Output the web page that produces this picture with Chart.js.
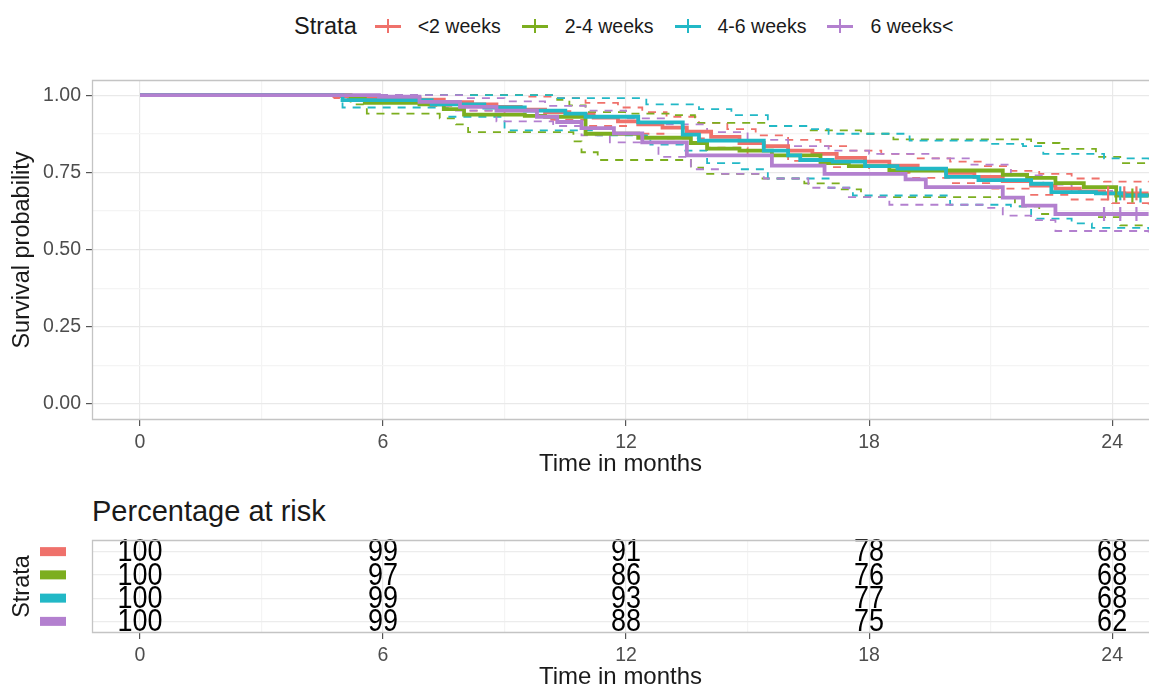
<!DOCTYPE html>
<html lang="en">
<head>
<meta charset="UTF-8">
<title>Survival by strata</title>
<script src="https://cdn.jsdelivr.net/npm/chart.js"></script>
<style>
  body { margin: 0; width: 1149px; height: 689px; background: #fff; position: relative; overflow: hidden;
         font-family: 'Liberation Sans', Arial, sans-serif; color: #1a1a1a; }
  .legend { position: absolute; top: 12px; left: 294px; display: flex; align-items: center; height: 28px; }
  .legend .ttl { font-size: 23.5px; margin-right: 18px; }
  .legend .key { position: relative; width: 26px; height: 20px; margin-right: 17px; }
  .legend .key::before { content: ''; position: absolute; left: 0; right: 0; top: 9px; height: 3px; background: var(--c); }
  .legend .key::after { content: ''; position: absolute; left: 12px; width: 2px; top: 3px; bottom: 3px; background: var(--c); }
  .legend .lab { font-size: 19.5px; margin-right: 21px; }
  #mainBox { position: absolute; left: 0; top: 0; width: 1149px; height: 476px; }
  #riskBox { position: absolute; left: 0; top: 490px; width: 1149px; height: 199px; }
  .risk-title { position: absolute; left: 92px; top: 495px; font-size: 29px; }
</style>
</head>
<body>
<div class="legend">
  <span class="ttl">Strata</span>
  <span class="key" style="--c:#ef716b"></span><span class="lab">&lt;2 weeks</span>
  <span class="key" style="--c:#7cae1f"></span><span class="lab">2-4 weeks</span>
  <span class="key" style="--c:#22b8c6"></span><span class="lab">4-6 weeks</span>
  <span class="key" style="--c:#b380cf"></span><span class="lab">6 weeks&lt;</span>
</div>
<div id="mainBox"><canvas id="survChart"></canvas></div>
<div class="risk-title">Percentage at risk</div>
<div id="riskBox"><canvas id="riskChart"></canvas></div>

<script>
// strata
const strata = ['<2 weeks', '2-4 weeks', '4-6 weeks', '6 weeks<'];
const colors = ['#ef716b', '#7cae1f', '#22b8c6', '#b380cf'];

// Kaplan-Meier estimates, [month, survival]
const redSurv = [[0,1],[4.8,0.997],[5.6,0.993],[6.3,0.99],[6.9,0.985],[7.5,0.977],[8.2,0.97],[8.8,0.962],[9.4,0.953],[10.0,0.945],[10.6,0.937],[11.2,0.927],[11.8,0.915],[12.3,0.905],[12.9,0.895],[13.5,0.882],[14.1,0.865],[14.8,0.845],[15.4,0.835],[16.0,0.82],[16.6,0.81],[17.2,0.797],[17.9,0.785],[18.5,0.772],[19.2,0.76],[19.9,0.748],[20.6,0.735],[21.3,0.722],[22.0,0.707],[22.6,0.697],[23.2,0.688],[23.8,0.682],[24.9,0.682]];
const greenSurv = [[0,1],[5.2,0.99],[5.55,0.975],[6.9,0.97],[7.5,0.955],[8.0,0.937],[9.5,0.933],[10.0,0.93],[11.0,0.875],[12.3,0.862],[13.6,0.845],[14.0,0.827],[14.8,0.82],[15.6,0.805],[16.8,0.78],[17.5,0.77],[18.5,0.756],[21.3,0.742],[21.9,0.732],[22.6,0.715],[23.3,0.702],[24.1,0.675],[24.9,0.672]];
const cyanSurv = [[0,1],[5.0,0.984],[7.2,0.97],[8.5,0.96],[9.5,0.95],[10.5,0.94],[11.0,0.93],[12.3,0.912],[13.4,0.872],[13.8,0.853],[15.4,0.82],[16.0,0.805],[16.3,0.79],[17.1,0.785],[17.9,0.77],[18.7,0.762],[19.9,0.735],[20.7,0.725],[22.0,0.713],[22.5,0.686],[23.6,0.682],[24.3,0.675],[24.9,0.675]];
const purpleSurv = [[0,1],[5.9,0.995],[6.9,0.978],[7.9,0.962],[8.8,0.95],[9.8,0.93],[10.3,0.913],[10.9,0.893],[11.7,0.876],[12.4,0.847],[13.5,0.805],[15.6,0.772],[16.9,0.745],[18.9,0.727],[19.4,0.702],[21.3,0.668],[21.8,0.642],[22.6,0.615],[24.9,0.615]];

// 95% confidence limits, [month, survival]
const redUpper = [[0,1],[9.0,1],[9.5,0.995],[10.2,0.99],[11.0,0.975],[11.8,0.96],[12.4,0.945],[13.0,0.93],[13.8,0.91],[14.5,0.89],[15.2,0.87],[16.0,0.855],[16.8,0.835],[17.5,0.82],[18.3,0.81],[19.2,0.795],[20.0,0.785],[20.8,0.77],[21.5,0.755],[22.2,0.745],[23.0,0.73],[23.8,0.72],[24.9,0.718]];
const redLower = [[0,1],[4.8,0.99],[6.0,0.975],[7.0,0.965],[8.0,0.95],[9.0,0.935],[10.0,0.92],[11.0,0.9],[12.0,0.875],[13.0,0.86],[14.0,0.83],[15.0,0.805],[16.0,0.787],[17.0,0.767],[18.0,0.748],[19.0,0.732],[20.0,0.715],[21.0,0.697],[22.0,0.677],[23.0,0.662],[24.0,0.65],[24.9,0.645]];
const greenUpper = [[0,1],[9.9,1],[10.3,0.985],[10.6,0.967],[11.0,0.945],[12.0,0.94],[13.2,0.935],[13.7,0.91],[14.8,0.91],[15.5,0.9],[16.5,0.886],[17.8,0.875],[18.6,0.857],[21.5,0.857],[22.0,0.845],[22.7,0.826],[23.6,0.8],[24.2,0.78],[24.9,0.78]];
const greenLower = [[0,1],[5.2,0.97],[5.6,0.94],[7.0,0.94],[7.4,0.925],[7.8,0.905],[8.1,0.88],[10.5,0.88],[10.7,0.85],[10.9,0.815],[11.3,0.79],[13.3,0.79],[13.6,0.765],[13.9,0.745],[15.3,0.73],[16.4,0.714],[17.3,0.695],[17.8,0.67],[21.0,0.67],[21.6,0.64],[22.2,0.615],[23.6,0.605],[24.2,0.578],[24.9,0.575]];
const cyanUpper = [[0,1],[10.0,1],[10.2,0.99],[12.3,0.99],[12.5,0.97],[13.5,0.97],[13.8,0.955],[14.6,0.935],[15.5,0.9],[16.5,0.89],[17.0,0.875],[18.2,0.875],[19.0,0.853],[20.5,0.853],[21.0,0.842],[21.8,0.835],[22.3,0.81],[23.3,0.81],[23.8,0.795],[24.9,0.79]];
const cyanLower = [[0,1],[5.0,0.96],[7.3,0.958],[7.6,0.93],[8.5,0.93],[9.0,0.886],[11.0,0.886],[11.3,0.87],[12.3,0.87],[12.6,0.84],[13.4,0.82],[14.0,0.78],[14.8,0.76],[15.5,0.73],[16.6,0.73],[17.0,0.7],[17.6,0.675],[19.5,0.675],[20.0,0.645],[21.5,0.64],[22.0,0.6],[23.0,0.585],[23.5,0.57],[24.9,0.565]];
const purpleUpper = [[0,1],[7.5,1],[8.0,0.99],[9.0,0.98],[10.0,0.965],[11.0,0.95],[12.0,0.925],[13.0,0.905],[14.0,0.88],[15.0,0.855],[16.0,0.835],[17.0,0.82],[18.0,0.81],[19.5,0.795],[20.5,0.775],[21.5,0.74],[22.3,0.71],[23.0,0.69],[24.0,0.68],[24.9,0.675]];
const purpleLower = [[0,1],[6.9,0.97],[7.8,0.95],[8.8,0.915],[10.2,0.9],[10.9,0.87],[11.6,0.847],[12.8,0.8],[13.6,0.76],[14.3,0.745],[15.4,0.73],[16.5,0.7],[17.5,0.67],[18.5,0.645],[20.8,0.635],[21.3,0.61],[22.0,0.595],[22.6,0.56],[24.9,0.555]];

// censoring times (months)
const redCens = [23.9, 24.3, 24.6];
const greenCens = [24.1, 24.5];
const cyanCens = [24.2, 24.7];
const purpleCens = [23.8, 24.2, 24.6];

// percentage at risk table
const riskTimes = [0, 6, 12, 18, 24];
const riskRed = [100, 99, 91, 78, 68];
const riskGreen = [100, 97, 86, 76, 68];
const riskCyan = [100, 99, 93, 77, 68];
const riskPurple = [100, 99, 88, 75, 62];

const xTicks = [0, 3, 6, 9, 12, 15, 18, 21, 24];
const yTicks = [0, 0.125, 0.25, 0.375, 0.5, 0.625, 0.75, 0.875, 1];

const curves = [redSurv, greenSurv, cyanSurv, purpleSurv];
const uppers = [redUpper, greenUpper, cyanUpper, purpleUpper];
const lowers = [redLower, greenLower, cyanLower, purpleLower];
const censors = [redCens, greenCens, cyanCens, purpleCens];
const riskRows = [riskRed, riskGreen, riskCyan, riskPurple];

const toPts = arr => arr.map(p => ({ x: p[0], y: p[1] }));
function stepAt(curve, t) {
    let v = curve[0][1];
    for (const p of curve) { if (p[0] <= t) v = p[1]; }
    return v;
}

const isMajor = v => Math.abs(v % 6) < 1e-9;
const isMajorY = v => Math.abs((v * 4) % 1) < 1e-9;
const noPad = s => { s.paddingLeft = 0; s.paddingRight = 0; s.paddingTop = 0; s.paddingBottom = 0; };

// panel frame; the right side runs off the picture, so no right edge
const panelBox = {
    id: 'panelBox',
    afterDraw(chart) {
        const a = chart.chartArea, ctx = chart.ctx;
        ctx.save();
        ctx.strokeStyle = '#c4c4c4';
        ctx.lineWidth = 1.3;
        ctx.beginPath();
        ctx.moveTo(a.right + 2, a.top + 0.5);
        ctx.lineTo(a.left + 0.5, a.top + 0.5);
        ctx.lineTo(a.left + 0.5, a.bottom - 0.5);
        ctx.lineTo(a.right + 2, a.bottom - 0.5);
        ctx.stroke();
        ctx.restore();
    }
};

const xScaleBase = (min, max) => ({
    type: 'linear', min: min, max: max,
    afterBuildTicks: s => { s.ticks = xTicks.map(v => ({ value: v })); },
    afterFit: s => { s.height = 56; noPad(s); },
    border: { display: false },
    grid: {
        color: c => isMajor(c.tick.value) ? '#e9e9e9' : '#f4f4f4',
        lineWidth: 1.2,
        tickLength: 6,
        tickColor: c => isMajor(c.tick.value) ? '#555' : 'rgba(0,0,0,0)'
    },
    ticks: {
        autoSkip: false, maxRotation: 0, padding: 5, color: '#4d4d4d',
        font: { family: "'Liberation Sans', Arial", size: 19.5 },
        callback: v => isMajor(v) ? String(v) : ''
    },
    title: {
        display: true, text: 'Time in months', color: '#1a1a1a', padding: 0,
        font: { family: "'Liberation Sans', Arial", size: 24, lineHeight: 1 }
    }
});

// main survival chart (lower order is drawn on top: purple solid uppermost)
const datasets = [];
for (let i = 0; i < 4; i++) {
    [uppers[i], lowers[i]].forEach(ci => datasets.push({
        data: toPts(ci), borderColor: colors[i], borderWidth: 1.8, borderDash: [8, 7],
        stepped: true, pointRadius: 0, fill: false, order: 10 - i
    }));
}
for (let i = 0; i < 4; i++) {
    datasets.push({
        data: toPts(curves[i]), borderColor: colors[i], borderWidth: 3.8,
        stepped: true, pointRadius: 0, fill: false, order: 5 - i
    });
    datasets.push({
        type: 'scatter',
        data: censors[i].map(t => ({ x: t, y: stepAt(curves[i], t) })),
        borderColor: colors[i], borderWidth: 2.2, pointStyle: 'line', rotation: 90,
        pointRadius: 7, showLine: false, order: 0
    });
}

new Chart(document.getElementById('survChart'), {
    type: 'line',
    data: { datasets: datasets },
    options: {
        responsive: true, maintainAspectRatio: false, animation: false,
        layout: { autoPadding: false, padding: { top: 80, right: 0, left: 0, bottom: 0 } },
        plugins: { legend: { display: false }, tooltip: { enabled: false } },
        scales: {
            x: xScaleBase(-1.185, 24.91),
            y: {
                type: 'linear', min: -0.052, max: 1.049,
                afterBuildTicks: s => { s.ticks = yTicks.map(v => ({ value: v })); },
                afterFit: s => { s.width = 92; noPad(s); },
                border: { display: false },
                grid: {
                    color: c => isMajorY(c.tick.value) ? '#e9e9e9' : '#f4f4f4',
                    lineWidth: 1.2,
                    tickLength: 6,
                    tickColor: c => isMajorY(c.tick.value) ? '#555' : 'rgba(0,0,0,0)'
                },
                ticks: {
                    autoSkip: false, padding: 5, color: '#4d4d4d',
                    font: { family: "'Liberation Sans', Arial", size: 19.5 },
                    callback: v => isMajorY(v) ? v.toFixed(2) : ''
                },
                title: {
                    display: true, text: 'Survival probability', color: '#1a1a1a',
                    padding: { top: 11, bottom: 0 },
                    font: { family: "'Liberation Sans', Arial", size: 23.5, lineHeight: 1 }
                }
            }
        }
    },
    plugins: [panelBox]
});

// risk table
const riskText = {
    id: 'riskText',
    afterDatasetsDraw(chart) {
        const ctx = chart.ctx, xs = chart.scales.x, ys = chart.scales.y;
        ctx.save();
        ctx.fillStyle = '#000';
        ctx.textAlign = 'center';
        ctx.textBaseline = 'middle';
        ctx.font = "27px 'Liberation Sans', Arial";
        riskRows.forEach((row, r) => {
            const py = ys.getPixelForValue(r);
            row.forEach((v, k) => {
                ctx.save();
                ctx.translate(xs.getPixelForValue(riskTimes[k]), py + 1);
                ctx.scale(1, 1.17);
                ctx.fillText(String(v), 0, 0);
                ctx.restore();
            });
            ctx.fillStyle = colors[r];
            ctx.fillRect(40, py - 4.5, 26, 9);
            ctx.fillStyle = '#000';
        });
        ctx.restore();
    }
};

new Chart(document.getElementById('riskChart'), {
    type: 'line',
    data: { labels: strata, datasets: [] },
    options: {
        responsive: true, maintainAspectRatio: false, animation: false,
        layout: { autoPadding: false, padding: { top: 50, right: 0, left: 0, bottom: 0 } },
        plugins: { legend: { display: false }, tooltip: { enabled: false } },
        scales: {
            x: xScaleBase(-1.185, 24.91),
            y: {
                type: 'category', labels: strata, offset: true,
                afterFit: s => { s.width = 92; noPad(s); },
                border: { display: false },
                grid: { color: '#ececec', lineWidth: 1.2, offset: false, drawTicks: false },
                ticks: { display: false },
                title: {
                    display: true, text: 'Strata', color: '#1a1a1a',
                    padding: { top: 11, bottom: 0 },
                    font: { family: "'Liberation Sans', Arial", size: 23.5, lineHeight: 1 }
                }
            }
        }
    },
    plugins: [panelBox, riskText]
});
</script>
</body>
</html>
